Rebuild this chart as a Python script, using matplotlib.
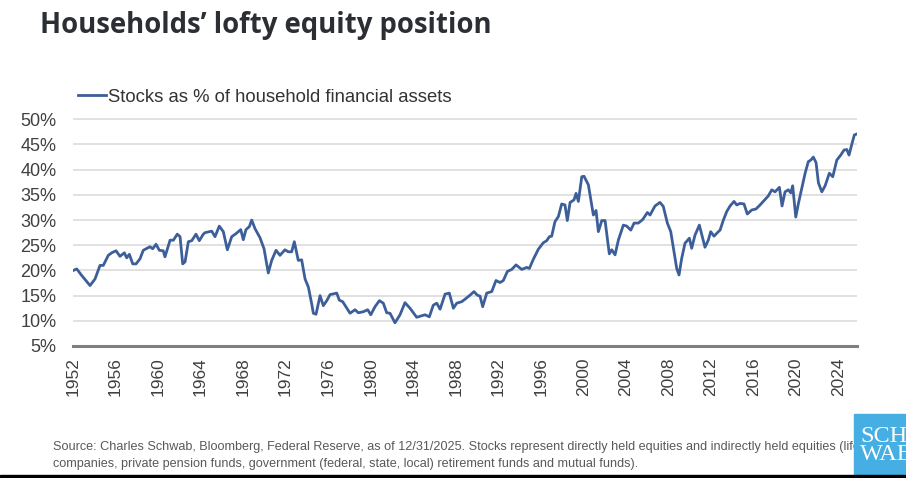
import matplotlib.pyplot as plt
from matplotlib.patches import Rectangle

# DATA
years = [
    1952.03, 1952.35, 1952.82, 1953.60, 1954.07, 1954.54, 1954.85, 1955.32, 1955.64, 1956.05,
    1956.42, 1956.83, 1957.05, 1957.30, 1957.62, 1957.93, 1958.30, 1958.61, 1959.24, 1959.50,
    1959.81, 1960.12, 1960.49, 1960.65, 1961.13, 1961.44, 1961.81, 1962.07, 1962.32, 1962.54,
    1962.85, 1963.17, 1963.57, 1963.88, 1964.26, 1964.42, 1965.05, 1965.36, 1965.76, 1966.14,
    1966.52, 1966.93, 1967.33, 1967.78, 1968.02, 1968.27, 1968.59, 1968.81, 1969.12, 1969.59,
    1969.97, 1970.37, 1970.69, 1971.10, 1971.47, 1971.94, 1972.25, 1972.57, 1972.82, 1973.19,
    1973.51, 1973.83, 1974.14, 1974.46, 1974.61, 1974.86, 1975.24, 1975.55, 1975.87, 1976.18,
    1976.81, 1977.05, 1977.37, 1978.06, 1978.53, 1978.84, 1979.31, 1979.72, 1980.01, 1980.41,
    1980.82, 1981.19, 1981.51, 1981.82, 1982.29, 1982.76, 1983.23, 1983.70, 1984.33, 1984.80,
    1985.11, 1985.52, 1985.89, 1986.22, 1986.53, 1987.00, 1987.40, 1987.78, 1988.10, 1988.57,
    1988.88, 1989.35, 1989.72, 1990.03, 1990.29, 1990.54, 1990.92, 1991.39, 1991.79, 1992.17,
    1992.48, 1992.86, 1993.27, 1993.68, 1994.21, 1994.68, 1994.93, 1995.30, 1995.77, 1996.24,
    1996.56, 1996.81, 1997.03, 1997.34, 1997.66, 1997.97, 1998.28, 1998.50, 1998.76, 1999.13,
    1999.32, 1999.54, 1999.86, 2000.07, 2000.48, 2000.95, 2001.20, 2001.42, 2001.74, 2002.05,
    2002.45, 2002.68, 2002.99, 2003.30, 2003.77, 2004.09, 2004.47, 2004.78, 2005.18, 2005.59,
    2005.81, 2006.03, 2006.28, 2006.75, 2007.22, 2007.53, 2007.91, 2008.23, 2008.54, 2008.79,
    2009.01, 2009.26, 2009.57, 2009.98, 2010.20, 2010.51, 2010.92, 2011.45, 2011.76, 2011.99,
    2012.30, 2012.71, 2012.87, 2013.18, 2013.50, 2013.81, 2014.18, 2014.44, 2014.75, 2015.12,
    2015.43, 2015.85, 2016.25, 2016.63, 2017.10, 2017.41, 2017.73, 2018.04, 2018.45, 2018.70,
    2018.98, 2019.29, 2019.52, 2019.70, 2019.99, 2020.24, 2020.56, 2020.87, 2021.17, 2021.40,
    2021.64, 2021.90, 2022.12, 2022.44, 2022.75, 2023.15, 2023.47, 2023.85, 2024.22, 2024.53,
    2024.79, 2025.00, 2025.28, 2025.50, 2025.75,
]
stock_share = [
    20.0, 20.3, 19.0, 17.0, 18.3, 21.0, 21.0, 23.0, 23.5, 23.9,
    22.8, 23.5, 22.5, 23.2, 21.3, 21.3, 22.3, 24.0, 24.7, 24.3,
    25.2, 24.0, 23.9, 22.7, 26.0, 26.0, 27.2, 26.7, 21.3, 21.7,
    25.7, 25.9, 27.2, 25.9, 27.2, 27.5, 27.8, 26.7, 28.8, 27.7,
    24.1, 26.7, 27.3, 28.1, 26.1, 28.1, 28.7, 30.0, 28.3, 26.5,
    24.3, 19.5, 22.0, 24.0, 23.0, 24.1, 23.7, 23.7, 25.7, 22.0,
    22.1, 18.3, 16.7, 13.3, 11.5, 11.3, 15.0, 13.0, 14.0, 15.2,
    15.5, 14.1, 13.8, 11.5, 12.2, 11.6, 11.8, 12.2, 11.2, 12.8,
    14.0, 13.5, 11.6, 11.5, 9.6, 11.2, 13.6, 12.5, 10.7, 11.0,
    11.2, 10.8, 13.1, 13.5, 12.3, 15.3, 15.5, 12.5, 13.5, 13.8,
    14.3, 15.1, 15.8, 15.1, 14.9, 12.8, 15.5, 15.8, 18.0, 17.6,
    18.0, 19.8, 20.2, 21.1, 20.2, 20.6, 20.4, 22.2, 24.2, 25.5,
    25.9, 26.7, 26.8, 29.7, 30.7, 33.2, 33.0, 29.9, 33.5, 34.0,
    35.3, 33.7, 38.6, 38.7, 37.0, 31.0, 31.9, 27.7, 29.9, 29.9,
    23.3, 24.1, 23.1, 26.0, 29.0, 28.8, 28.0, 29.4, 29.4, 30.1,
    30.8, 31.5, 31.0, 32.8, 33.5, 32.7, 29.4, 27.7, 23.7, 20.4,
    19.1, 22.4, 25.4, 26.4, 24.4, 27.0, 29.0, 24.6, 26.0, 27.7,
    26.8, 27.7, 28.0, 30.0, 31.7, 32.8, 33.7, 33.0, 33.3, 33.2,
    31.2, 32.0, 32.2, 33.0, 34.1, 34.8, 36.0, 35.6, 36.5, 32.8,
    35.6, 36.0, 35.4, 36.8, 30.6, 33.3, 36.3, 39.3, 41.6, 41.9,
    42.5, 41.4, 37.4, 35.6, 36.8, 39.3, 38.6, 41.9, 42.9, 43.9,
    44.0, 42.9, 45.2, 46.9, 47.1,
]
year_ticks = list(range(1952, 2025, 4))
pct_ticks = list(range(5, 55, 5))

title = "Households\u2019 lofty equity position"
series_label = "Stocks as % of household financial assets"
source_1 = ("Source: Charles Schwab, Bloomberg, Federal Reserve, as of 12/31/2025. Stocks represent "
            "directly held equities and indirectly held equities (life insurance")
source_2 = ("companies, private pension funds, government (federal, state, local) retirement funds "
            "and mutual funds).")

W, H = 906, 478
LINE = "#3d5f99"
TXT = "#404040"

fig = plt.figure(figsize=(W / 100, H / 100), dpi=100)
plt.rcParams["font.family"] = ["Liberation Sans", "DejaVu Sans"]

# axes placed by pixel position of the reference
top_px, bot_px = 118.3, 346
ax = fig.add_axes([73 / W, 1 - bot_px / H, 784 / W, (bot_px - top_px) / H])
ax.plot(years, stock_share, color=LINE, lw=2.0, solid_joinstyle="round",
        label=series_label, zorder=3)

ax.set_xlim(1952, 2025.75)
ax.set_ylim(5, 50.2)
ax.set_yticks(pct_ticks)
ax.set_yticklabels([f"{v}%" for v in pct_ticks])
ax.set_xticks(year_ticks)
ax.set_xticklabels([str(y) for y in year_ticks], rotation=90)
ax.tick_params(length=0, labelsize=12.5, colors=TXT)
ax.tick_params(axis="y", labelsize=13, pad=12)
ax.tick_params(axis="x", pad=8)
ax.yaxis.grid(True, color="#dcdcdc", lw=1.2)
ax.set_axisbelow(True)
for s in ["top", "right", "left"]:
    ax.spines[s].set_visible(False)
ax.spines["bottom"].set_color("#7f7f7f")
ax.spines["bottom"].set_linewidth(2.2)

# title and legend
fig.text(40 / W, 1 - 25 / H, title, fontsize=19.8, fontweight="bold",
         family=["Open Sans", "DejaVu Sans"], color="#2b2f33", va="center", ha="left")
fig.legend(loc="center left", bbox_to_anchor=(78 / W, 1 - 97 / H), frameon=False,
           fontsize=13.3, handlelength=1.5, handletextpad=0.15, borderpad=0,
           borderaxespad=0, labelcolor="#333333")

# source note
fig.text(53 / W, 1 - 447 / H, source_1, fontsize=9.1, color="#595959", va="center")
fig.text(53 / W, 1 - 464 / H, source_2, fontsize=9.1, color="#595959", va="center")

# logo block and bottom strip
fig.add_artist(Rectangle((854 / W, 4 / H), 52 / W, 60 / H, transform=fig.transFigure,
                         color="#45aee3", zorder=5))
fig.text(860 / W, 1 - 436 / H, "SCH", fontsize=17.5, color="white",
         family=["Liberation Serif", "DejaVu Serif"], va="center", zorder=6)
fig.text(860 / W, 1 - 455 / H, "WAB", fontsize=17.5, color="white",
         family=["Liberation Serif", "DejaVu Serif"], va="center", zorder=6)
fig.add_artist(Rectangle((0, 0), 1, 3 / H, transform=fig.transFigure,
                         color="black", zorder=5))

fig.savefig("out.png", dpi=100)
